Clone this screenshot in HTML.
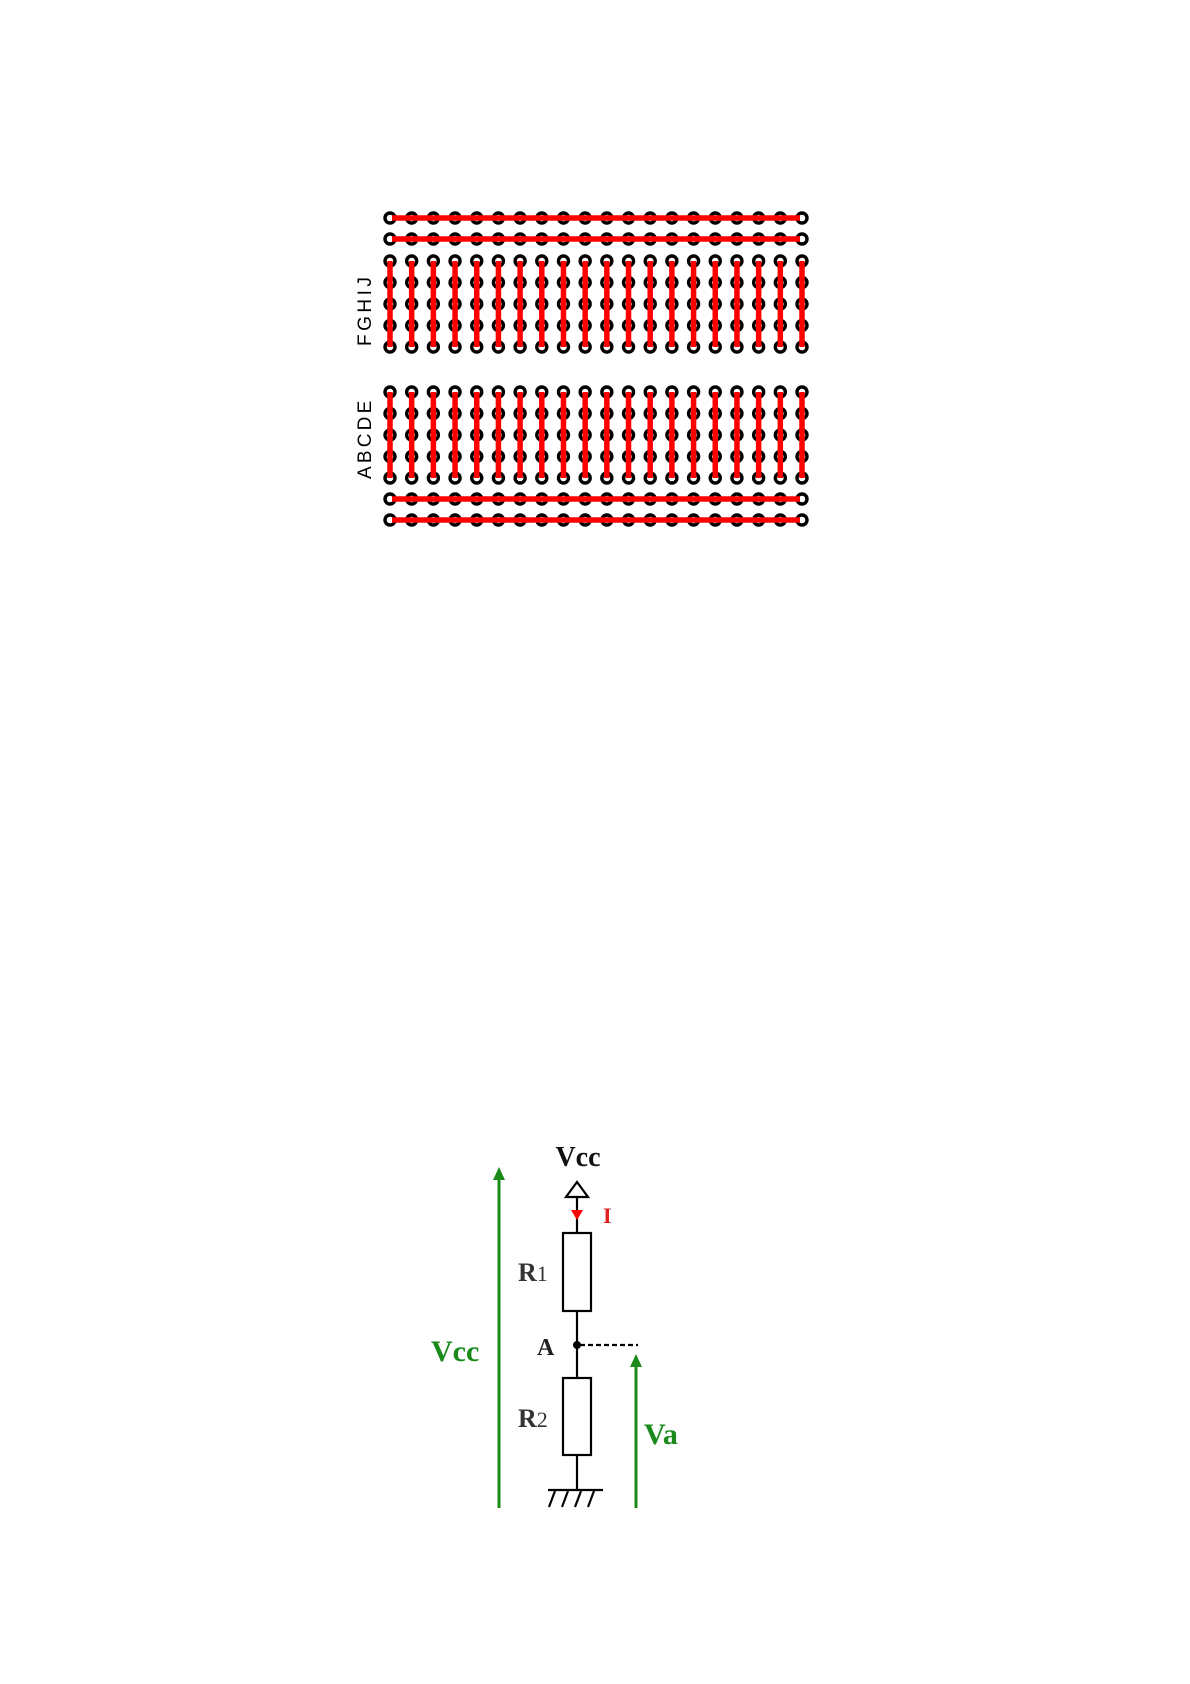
<!DOCTYPE html>
<html><head><meta charset="utf-8"><style>
html,body{margin:0;padding:0;background:#fff;}
svg{display:block;}
</style></head><body>
<svg width="1190" height="1684" viewBox="0 0 1190 1684" xmlns="http://www.w3.org/2000/svg">
<defs>
<g id="row">
<circle cx="390" cy="0" r="5"/><circle cx="411.68" cy="0" r="5"/><circle cx="433.37" cy="0" r="5"/><circle cx="455.05" cy="0" r="5"/><circle cx="476.74" cy="0" r="5"/><circle cx="498.42" cy="0" r="5"/><circle cx="520.11" cy="0" r="5"/><circle cx="541.79" cy="0" r="5"/><circle cx="563.47" cy="0" r="5"/><circle cx="585.16" cy="0" r="5"/><circle cx="606.84" cy="0" r="5"/><circle cx="628.53" cy="0" r="5"/><circle cx="650.21" cy="0" r="5"/><circle cx="671.89" cy="0" r="5"/><circle cx="693.58" cy="0" r="5"/><circle cx="715.26" cy="0" r="5"/><circle cx="736.95" cy="0" r="5"/><circle cx="758.63" cy="0" r="5"/><circle cx="780.32" cy="0" r="5"/><circle cx="802" cy="0" r="5"/>
</g>
<g id="col">
<line x1="390" x2="390" y1="0" y2="86"/><line x1="411.68" x2="411.68" y1="0" y2="86"/><line x1="433.37" x2="433.37" y1="0" y2="86"/><line x1="455.05" x2="455.05" y1="0" y2="86"/><line x1="476.74" x2="476.74" y1="0" y2="86"/><line x1="498.42" x2="498.42" y1="0" y2="86"/><line x1="520.11" x2="520.11" y1="0" y2="86"/><line x1="541.79" x2="541.79" y1="0" y2="86"/><line x1="563.47" x2="563.47" y1="0" y2="86"/><line x1="585.16" x2="585.16" y1="0" y2="86"/><line x1="606.84" x2="606.84" y1="0" y2="86"/><line x1="628.53" x2="628.53" y1="0" y2="86"/><line x1="650.21" x2="650.21" y1="0" y2="86"/><line x1="671.89" x2="671.89" y1="0" y2="86"/><line x1="693.58" x2="693.58" y1="0" y2="86"/><line x1="715.26" x2="715.26" y1="0" y2="86"/><line x1="736.95" x2="736.95" y1="0" y2="86"/><line x1="758.63" x2="758.63" y1="0" y2="86"/><line x1="780.32" x2="780.32" y1="0" y2="86"/><line x1="802" x2="802" y1="0" y2="86"/>
</g>
</defs>
<g fill="#fff" stroke="#000" stroke-width="3.4">
<use href="#row" y="218"/><use href="#row" y="239"/>
<use href="#row" y="261"/><use href="#row" y="282.5"/><use href="#row" y="304"/><use href="#row" y="325.5"/><use href="#row" y="347"/>
<use href="#row" y="392"/><use href="#row" y="413.5"/><use href="#row" y="435"/><use href="#row" y="456.5"/><use href="#row" y="478"/>
<use href="#row" y="499"/><use href="#row" y="520"/>
</g>
<g stroke="#f00" stroke-width="5.5">
<line x1="392" y1="218" x2="800" y2="218"/>
<line x1="392" y1="239" x2="800" y2="239"/>
<line x1="392" y1="499" x2="800" y2="499"/>
<line x1="392" y1="520" x2="800" y2="520"/>
<use href="#col" y="261"/><use href="#col" y="392"/>
</g>
<g font-family="Liberation Sans, sans-serif" font-size="19" fill="#000">
<text transform="translate(371,346) rotate(-90)" letter-spacing="3.5">FGHIJ</text>
<text transform="translate(371,479) rotate(-90)" letter-spacing="3.2">ABCDE</text>
</g>

<g stroke="#000" stroke-width="2.2" fill="none">
<line x1="577" y1="1197" x2="577" y2="1233"/>
<polygon points="577,1182 566,1197 588,1197" fill="#fff"/>
<rect x="563" y="1233" width="28" height="78" fill="#fff"/>
<line x1="577" y1="1311" x2="577" y2="1378"/>
<rect x="563" y="1378" width="28" height="77" fill="#fff"/>
<line x1="577" y1="1455" x2="577" y2="1490"/>
<line x1="548" y1="1490" x2="603" y2="1490"/>
<line x1="555" y1="1491" x2="549" y2="1507"/>
<line x1="568" y1="1491" x2="562" y2="1507"/>
<line x1="581" y1="1491" x2="575" y2="1507"/>
<line x1="594" y1="1491" x2="588" y2="1507"/>
<line x1="580" y1="1345" x2="638" y2="1345" stroke-dasharray="5,3"/>
</g>
<circle cx="577" cy="1345" r="4" fill="#000"/>
<polygon points="571,1210 583,1210 577,1220" fill="#f00"/>
<g stroke="#1a8a1a" stroke-width="3" fill="#1a8a1a">
<line x1="499" y1="1178" x2="499" y2="1508"/>
<polygon points="493,1180 505,1180 499,1167" stroke="none"/>
<line x1="636" y1="1365" x2="636" y2="1508"/>
<polygon points="630,1367 642,1367 636,1354" stroke="none"/>
</g>
<g font-family="Liberation Serif, serif" font-weight="bold">
<text x="578" y="1166" font-size="28" text-anchor="middle" fill="#111">Vcc</text>
<text x="603" y="1223" font-size="22" fill="#e02020">I</text>
<text x="518" y="1281" font-size="26" fill="#333">R<tspan font-size="22" font-weight="normal">1</tspan></text>
<text x="518" y="1427" font-size="26" fill="#333">R<tspan font-size="22" font-weight="normal">2</tspan></text>
<text x="537" y="1355" font-size="24" fill="#222">A</text>
<text x="431" y="1361" font-size="30" fill="#1a8a1a">Vcc</text>
<text x="644" y="1444" font-size="30" fill="#1a8a1a">Va</text>
</g>
</svg>
</body></html>
